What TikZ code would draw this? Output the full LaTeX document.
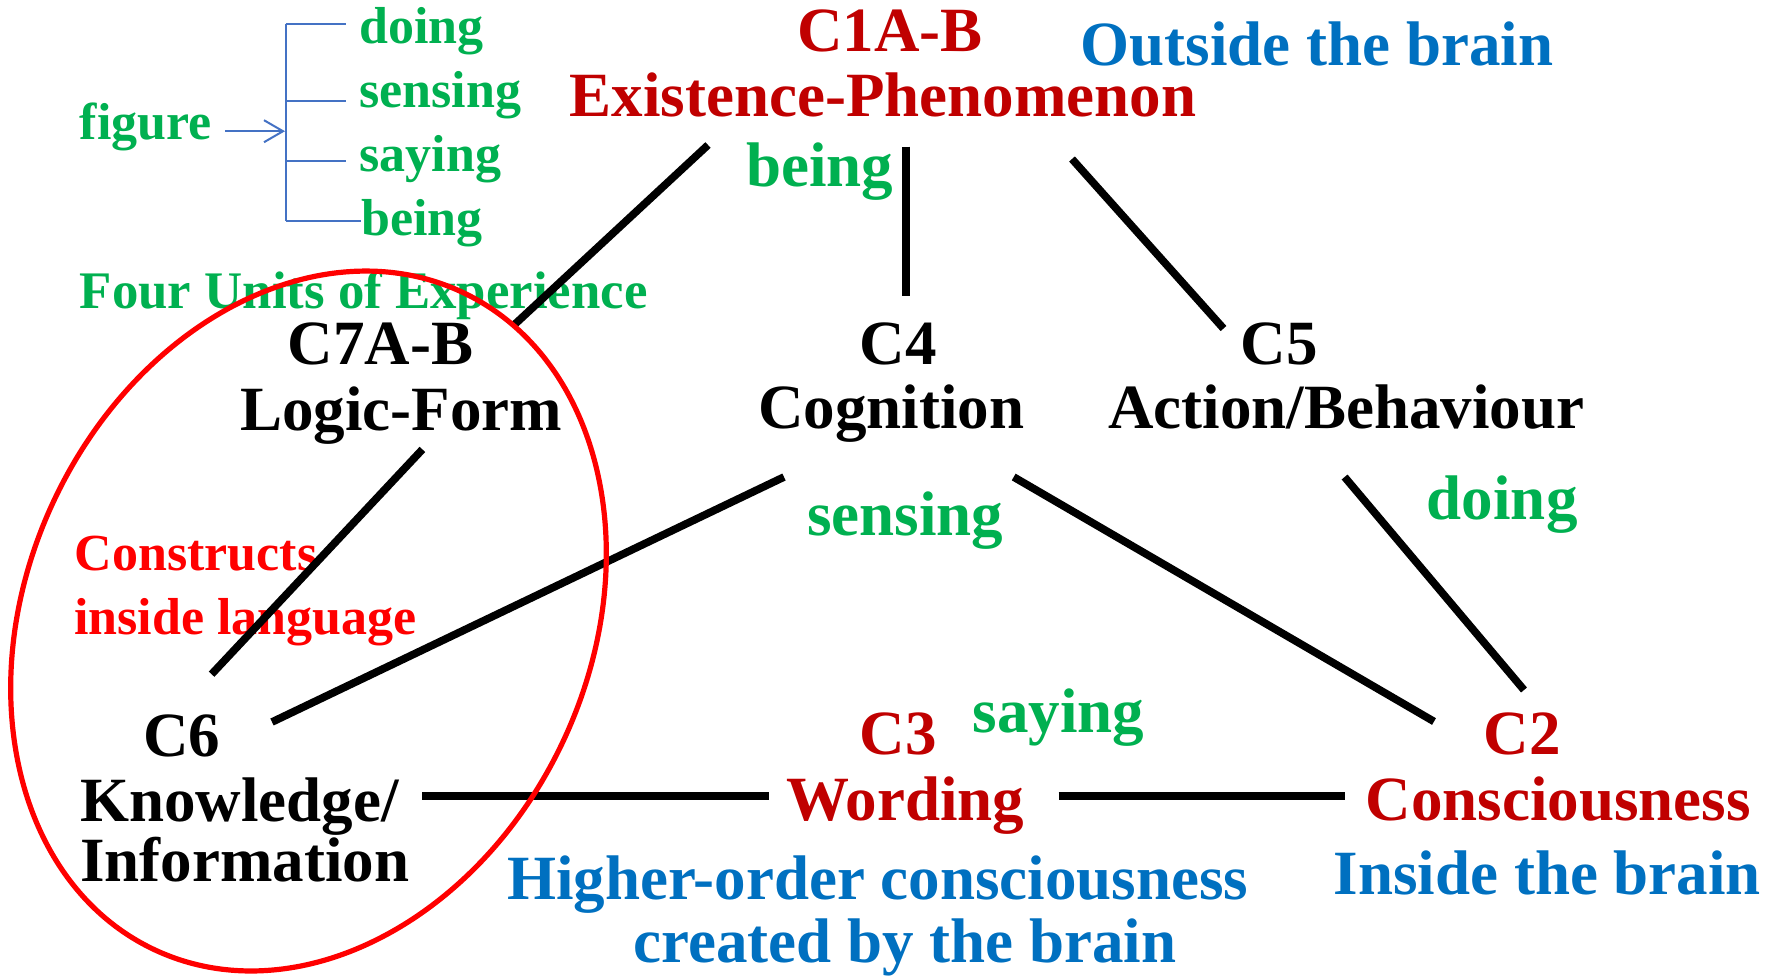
\documentclass[tikz,border=0pt]{standalone}
\usepackage{fontspec}
\setmainfont{Liberation Serif}
\usetikzlibrary{arrows.meta}
\definecolor{dred}{HTML}{C00000}
\definecolor{ublue}{HTML}{0070C0}
\definecolor{ugreen}{HTML}{00B050}
\definecolor{bblue}{HTML}{4472C4}
\definecolor{pred}{HTML}{FF0000}
\begin{document}
\begin{tikzpicture}[x=0.5pt,y=-0.5pt,
  big/.style={font=\fontsize{31.5}{36}\selectfont\bfseries, inner sep=0pt, anchor=base},
  bigw/.style={font=\fontsize{31.5}{36}\selectfont\bfseries, inner sep=0pt, anchor=base west},
  small/.style={font=\fontsize{26}{30}\selectfont\bfseries, inner sep=0pt, anchor=base west},
  conn/.style={line width=3.85pt},
  brk/.style={bblue, line width=1pt},
  oval/.style={pred, line width=2.6pt}]
\useasboundingbox (0,0) rectangle (1781,976);

% top-left figure list
\node[small, ugreen] (fig) at (79.5,139.3) {figure};
\node[small, ugreen] (ldoing) at (359,43.3) {doing};
\node[small, ugreen] (lsensing) at (359,107.7) {sensing};
\node[small, ugreen] (lsaying) at (359,171.7) {saying};
\node[small, ugreen] (lbeing) at (361,235) {being};
\node[small, ugreen, font=\fontsize{26.4}{30}\selectfont\bfseries] (four) at (79.5,308.5) {Four Units of Experience};

% bracket
\coordinate (bt) at (285.7,24.3);
\coordinate (bb) at (285.7,221);
\coordinate (b1) at (346,24.3);
\coordinate (b2) at (346,101);
\coordinate (b3) at (346,161.3);
\coordinate (b4) at (361,221);
\coordinate (a0) at (225,131.2);
\coordinate (a1) at (285,131.2);
\draw[brk] (bt) -- (bb);
\draw[brk] (bt) -- (b1);
\draw[brk] (bt |- b2) -- (b2);
\draw[brk] (bt |- b3) -- (b3);
\draw[brk] (bb) -- (b4);
\draw[brk, -{Straight Barb[length=9.5pt, width=11pt]}] (a0) -- (a1);

% concept nodes
\node[big, dred] (c1a) at (889.9,51.7) {C1A-B};
\node[big, dred] (c1b) at (883,116.7) {Existence-Phenomenon};
\node[big, ublue] (out) at (1317,65.7) {Outside the brain};
\node[big, ugreen] (gbeing) at (819.9,186.7) {being};

\node[big] (c7a) at (380.5,364) {C7A-B};
\node[big] (c7b) at (401,430) {Logic-Form};
\node[big] (c4a) at (898.2,364) {C4};
\node[big] (c4b) at (891.3,428.7) {Cognition};
\node[big] (c5a) at (1279.3,364) {C5};
\node[big] (c5b) at (1346.4,428.7) {Action/Behaviour};

\node[big, ugreen] (gsensing) at (905.1,535.9) {sensing};
\node[big, ugreen] (gdoing) at (1502.2,519.4) {doing};
\node[big, ugreen] (gsaying) at (1058.5,732.5) {saying};

\node[small, pred] (cons1) at (74.5,570) {Constructs};
\node[small, pred] (cons2) at (74,634) {inside language};

\node[big] (c6a) at (181.6,756) {C6};
\node[bigw] (c6b) at (80,821) {Knowledge/};
\node[bigw] (c6c) at (80,881.4) {Information};

\node[big, dred] (c3a) at (898.2,754.5) {C3};
\node[big, dred] (c3b) at (905.1,820.6) {Wording};
\node[big, dred] (c2a) at (1522.2,754.5) {C2};
\node[big, dred] (c2b) at (1558.4,820.6) {Consciousness};

\node[big, ublue] (hoc1) at (877.8,899.6) {Higher-order consciousness};
\node[big, ublue] (hoc2) at (904.8,962) {created by the brain};
\node[big, ublue] (inb) at (1547.3,894.1) {Inside the brain};

% connector end points
\coordinate (p1s) at (708,145);   \coordinate (p1e) at (514,325);
\coordinate (p2s) at (906,146.5); \coordinate (p2e) at (906,296);
\coordinate (p3s) at (1072,159);  \coordinate (p3e) at (1223.5,328.5);
\coordinate (p4s) at (422.4,449.4); \coordinate (p4e) at (211.6,674.2);
\coordinate (p5s) at (784,477);   \coordinate (p5e) at (272,722);
\coordinate (p6s) at (1013.7,477); \coordinate (p6e) at (1434,721.5);
\coordinate (p7s) at (1344.6,477); \coordinate (p7e) at (1524,690);
\coordinate (p8s) at (422.4,796); \coordinate (p8e) at (769,796);
\coordinate (p9s) at (1058.5,796); \coordinate (p9e) at (1344.6,796);

\draw[conn] (p1s) -- (p1e);
\draw[conn] (p2s) -- (p2e);
\draw[conn] (p3s) -- (p3e);
\draw[conn] (p4s) -- (p4e);
\draw[conn] (p5s) -- (p5e);
\draw[conn] (p6s) -- (p6e);
\draw[conn] (p7s) -- (p7e);
\draw[conn] (p8s) -- (p8e);
\draw[conn] (p9s) -- (p9e);

% red oval
\coordinate (E) at (308.5,621);
\draw[oval, rotate around={-25:(E)}] (E) ellipse [x radius=140.8pt, y radius=181.5pt];
\end{tikzpicture}
\end{document}
